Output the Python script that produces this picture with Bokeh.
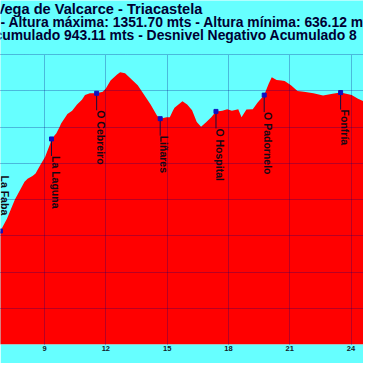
from bokeh.plotting import figure
from bokeh.models import Range1d, SingleIntervalTicker, ColumnDataSource
from bokeh.embed import file_html
from bokeh.resources import INLINE
from bokeh.core.properties import value

# ---- data (km, altitude m) ----
km = [6.70, 6.84, 7.16, 7.55, 8.02, 8.17, 8.41, 8.56, 8.80, 9.03, 9.27, 9.34,
      9.58, 9.74, 9.81, 10.12, 10.35, 10.59, 10.83, 10.98, 11.22, 11.55, 11.85,
      12.00, 12.23, 12.55, 12.70, 12.94, 13.25, 13.56, 13.88, 14.19, 14.50,
      14.66, 14.97, 15.13, 15.28, 15.36, 15.75, 15.98, 16.22, 16.45, 16.66,
      16.92, 17.16, 17.39, 17.70, 17.94, 18.17, 18.48, 18.64, 18.88, 19.19,
      19.42, 19.75, 19.97, 20.12, 20.36, 20.59, 20.75, 21.06, 21.38, 21.69,
      22.16, 22.63, 23.10, 23.49, 24.03, 24.34, 24.61, 24.80]
alt = [898, 913, 947, 1000, 1049, 1057, 1065, 1072, 1096, 1118, 1153, 1167,
       1183, 1201, 1210, 1236, 1245, 1262, 1275, 1288, 1293, 1293, 1297,
       1306, 1328, 1345, 1351, 1348, 1332, 1315, 1288, 1262, 1232,
       1223, 1227, 1227, 1245, 1253, 1271, 1262, 1246, 1214, 1201,
       1214, 1227, 1243, 1245, 1249, 1245, 1249, 1227, 1248, 1249,
       1267, 1288, 1319, 1337, 1330, 1328, 1327, 1315, 1299, 1297,
       1293, 1287, 1292, 1295, 1288, 1278, 1271, 1265]

wp_names = ["La Faba", "La Laguna", "O Cebreiro", "Liñares", "O Hospital",
            "O Padornelo", "Fonfría"]
wp_km = [6.84, 9.34, 11.55, 14.66, 17.39, 19.75, 23.49]
wp_alt = [913, 1167, 1293, 1223, 1243, 1288, 1295]

title_lines = ["Vega de Valcarce - Triacastela",
               "- Altura máxima: 1351.70 mts - Altura mínima: 636.12 mts",
               "Acumulado 943.11 mts - Desnivel Negativo Acumulado 8"]

# ---- styles / layout ----
W, H = 363, 363
BOTTOM = 19
PLOT_TOP_PX = 54          # where the 1400 m line sits
X0, X1 = 6.844, 24.61
Y0, YTOP = 600, 1400
frame_h = H - BOTTOM
m_per_px = (YTOP - Y0) / (frame_h - PLOT_TOP_PX)
Y1 = Y0 + frame_h * m_per_px
px_per_km = W / (X1 - X0)

label_dy = [-55.5, 17, 17, 17, 17, 17, 17]   # px below marker where label starts
drop_px = [0, 17, 17, 17, 17, 17, 17]

CYAN = "#66FFFF"
RED = "#FF0000"
NAVY = "#000080"
FONT = "Liberation Sans"

p = figure(width=W, height=H, output_backend="svg", toolbar_location=None,
           x_range=Range1d(X0, X1), y_range=Range1d(Y0, Y1),
           min_border_left=0, min_border_right=0,
           min_border_top=0, min_border_bottom=BOTTOM)
p.background_fill_color = CYAN
p.border_fill_color = CYAN
p.outline_line_color = None

p.varea(x=km, y1=Y0, y2=alt, fill_color=RED)

# grid drawn over the fill, limited to the chart box
p.xaxis.ticker = SingleIntervalTicker(interval=3, num_minor_ticks=0)
p.xgrid.ticker = SingleIntervalTicker(interval=3, num_minor_ticks=0)
p.ygrid.ticker = SingleIntervalTicker(interval=100, num_minor_ticks=0)
p.xgrid.cross_bounds = (Y0, YTOP)
p.ygrid.bounds = (Y0, YTOP)
for g in (p.xgrid, p.ygrid):
    g.level = "overlay"
    g.grid_line_color = NAVY
    g.grid_line_dash = "1 1"
    g.grid_line_width = 1
    g.grid_line_alpha = 0.55

p.yaxis.visible = False
ax = p.xaxis[0]
ax.axis_line_color = None
ax.major_tick_line_color = None
ax.minor_tick_line_color = None
ax.major_label_standoff = -5
ax.major_label_text_font = FONT
ax.major_label_text_font_style = "bold"
ax.major_label_text_font_size = "7.5px"
ax.major_label_text_color = "#10202a"

# waypoints
src = ColumnDataSource(dict(
    x=wp_km, y=wp_alt, name=wp_names, dy=label_dy,
    ydrop=[a - d * m_per_px for a, d in zip(wp_alt, drop_px)]))
p.segment(x0="x", y0="y", x1="x", y1="ydrop", source=src,
          line_color="#101040", line_width=1)
p.scatter(x="x", y="y", source=src, marker="square", size=4,
          fill_color="#1010C0", line_color="#1010C0")
p.text(x="x", y="y", text="name", source=src, angle=-1.5707963,
       x_offset=4.3, y_offset="dy", text_align="left", text_baseline="middle",
       text_font=value(FONT), text_font_style="bold", text_font_size="10.5px",
       text_color="#140814")

# title lines (cropped at the edges like the source)
title_x_px = [-5.0, 0, -16]
title_y_px = [8.4, 21.3, 34.0]
title_size = ["14.6px", "13.9px", "13.9px"]
tsrc = ColumnDataSource(dict(
    x=[X0 + xp / px_per_km for xp in title_x_px],
    y=[YTOP + (PLOT_TOP_PX - yp) * m_per_px for yp in title_y_px],
    t=title_lines, fs=title_size))
p.text(x="x", y="y", text="t", source=tsrc, text_align="left",
       text_baseline="middle", text_font=value(FONT), text_font_style="bold",
       text_font_size="fs", text_color="#000033")

open("out.html", "w").write(file_html(p, INLINE))
